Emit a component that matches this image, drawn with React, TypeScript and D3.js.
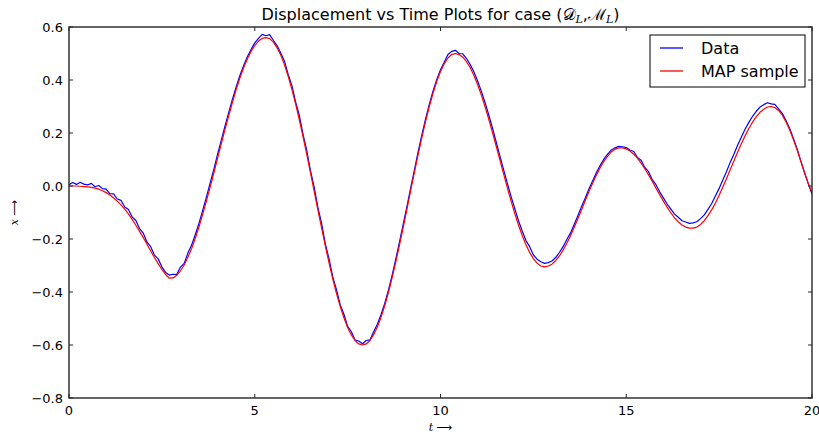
import React from "react";
import * as d3 from "d3";

const T_START = 0;
const T_STEP = 0.1;

const mapSample: number[] = [
  0, 0, 0, -0.001, -0.002, -0.003, -0.005, -0.008, -0.012, -0.018,
  -0.025, -0.034, -0.045, -0.057, -0.071, -0.087, -0.105, -0.126, -0.148, -0.171,
  -0.195, -0.22, -0.245, -0.27, -0.293, -0.315, -0.334, -0.348, -0.347, -0.337,
  -0.32, -0.298, -0.269, -0.236, -0.197, -0.154, -0.106, -0.056, -0.004, 0.05,
  0.105, 0.16, 0.214, 0.266, 0.316, 0.364, 0.407, 0.446, 0.479, 0.508,
  0.53, 0.547, 0.557, 0.56, 0.556, 0.543, 0.522, 0.494, 0.457, 0.414,
  0.365, 0.31, 0.25, 0.186, 0.119, 0.05, -0.02, -0.09, -0.159, -0.226,
  -0.29, -0.35, -0.405, -0.454, -0.497, -0.534, -0.562, -0.583, -0.596, -0.6,
  -0.596, -0.583, -0.561, -0.532, -0.495, -0.451, -0.401, -0.345, -0.284, -0.22,
  -0.153, -0.085, -0.015, 0.053, 0.12, 0.184, 0.245, 0.301, 0.351, 0.395,
  0.432, 0.461, 0.483, 0.496, 0.5, 0.496, 0.486, 0.469, 0.446, 0.417,
  0.382, 0.343, 0.299, 0.252, 0.202, 0.15, 0.098, 0.045, -0.007, -0.057,
  -0.104, -0.148, -0.187, -0.222, -0.251, -0.274, -0.291, -0.302, -0.305, -0.302,
  -0.295, -0.282, -0.264, -0.242, -0.216, -0.188, -0.156, -0.123, -0.089, -0.054,
  -0.02, 0.012, 0.042, 0.07, 0.094, 0.113, 0.129, 0.139, 0.144, 0.144,
  0.14, 0.132, 0.12, 0.105, 0.086, 0.065, 0.042, 0.018, -0.008, -0.033,
  -0.057, -0.08, -0.101, -0.12, -0.135, -0.147, -0.155, -0.159, -0.159, -0.155,
  -0.145, -0.131, -0.112, -0.09, -0.064, -0.035, -0.004, 0.028, 0.062, 0.095,
  0.128, 0.16, 0.19, 0.217, 0.241, 0.262, 0.278, 0.29, 0.298, 0.3,
  0.296, 0.285, 0.267, 0.242, 0.211, 0.175, 0.136, 0.093, 0.05, 0.01,
  -0.025,
];

const dataSeries: number[] = [
  0.005, 0.013, 0.006, 0.014, 0.007, 0.004, 0.01, -0.003, 0.002, -0.01,
  -0.012, -0.029, -0.03, -0.049, -0.054, -0.079, -0.089, -0.117, -0.13, -0.161,
  -0.178, -0.212, -0.229, -0.261, -0.275, -0.305, -0.326, -0.336, -0.333, -0.334,
  -0.306, -0.292, -0.253, -0.223, -0.183, -0.14, -0.091, -0.041, 0.012, 0.064,
  0.12, 0.173, 0.227, 0.278, 0.328, 0.374, 0.417, 0.454, 0.488, 0.515,
  0.54, 0.557, 0.572, 0.567, 0.571, 0.55, 0.53, 0.502, 0.471, 0.421,
  0.379, 0.317, 0.266, 0.195, 0.134, 0.058, -0.004, -0.081, -0.142, -0.218,
  -0.275, -0.343, -0.391, -0.448, -0.484, -0.53, -0.55, -0.581, -0.585, -0.595,
  -0.583, -0.581, -0.55, -0.522, -0.485, -0.442, -0.392, -0.335, -0.273, -0.209,
  -0.141, -0.075, -0.005, 0.062, 0.131, 0.194, 0.254, 0.309, 0.359, 0.402,
  0.439, 0.467, 0.496, 0.508, 0.512, 0.5, 0.499, 0.481, 0.458, 0.43,
  0.396, 0.357, 0.314, 0.268, 0.218, 0.165, 0.113, 0.061, 0.01, -0.04,
  -0.086, -0.131, -0.17, -0.206, -0.229, -0.26, -0.276, -0.286, -0.292, -0.289,
  -0.283, -0.27, -0.251, -0.229, -0.202, -0.177, -0.144, -0.111, -0.076, -0.044,
  -0.009, 0.021, 0.052, 0.078, 0.102, 0.12, 0.136, 0.144, 0.15, 0.148,
  0.145, 0.136, 0.13, 0.108, 0.097, 0.07, 0.054, 0.024, 0.005, -0.022,
  -0.045, -0.068, -0.087, -0.106, -0.118, -0.131, -0.136, -0.141, -0.139, -0.135,
  -0.123, -0.109, -0.088, -0.066, -0.038, -0.009, 0.023, 0.055, 0.09, 0.121,
  0.155, 0.185, 0.215, 0.24, 0.263, 0.282, 0.298, 0.307, 0.314, 0.31,
  0.308, 0.291, 0.274, 0.247, 0.217, 0.179, 0.14, 0.094, 0.05, 0.008,
  -0.03,
];

const xTicks = [0, 5, 10, 15, 20];
const yTicks = [-0.8, -0.6, -0.4, -0.2, 0.0, 0.2, 0.4, 0.6];

const seriesNames = ["Data", "MAP sample"];
const seriesColors = ["#0000ff", "#ff0000"];

const W = 819;
const H = 435;
const LEFT = 69;
const RIGHT = 812;
const TOP = 27;
const BOTTOM = 398;

const fmtY = (v: number) => {
  const s = Math.abs(v).toFixed(1);
  return v < -1e-9 ? "\u2212" + s : s;
};

export default function App() {
  const x = d3.scaleLinear().domain([0, 20]).range([LEFT, RIGHT]);
  const y = d3.scaleLinear().domain([-0.8, 0.6]).range([BOTTOM, TOP]);
  const line = d3
    .line<number>()
    .x((_, i) => x(T_START + i * T_STEP))
    .y((d) => y(d));

  const axisColor = "#262626";
  const tickLen = 4;
  const font = "'DejaVu Sans', sans-serif";
  const serif = "'DejaVu Serif', serif";

  return (
    <div style={{ position: "absolute", left: 0, top: 0 }}>
      <svg width={W} height={H} xmlns="http://www.w3.org/2000/svg" style={{ display: "block", background: "#fff" }}>
        <defs>
          <clipPath id="plotClip">
            <rect x={LEFT} y={TOP} width={RIGHT - LEFT} height={BOTTOM - TOP} />
          </clipPath>
        </defs>
        <rect x={0} y={0} width={W} height={H} fill="#fff" />
        <g clipPath="url(#plotClip)">
          <path d={line(dataSeries) || ""} fill="none" stroke={seriesColors[0]} strokeWidth={1.2} strokeLinejoin="round" />
          <path d={line(mapSample) || ""} fill="none" stroke={seriesColors[1]} strokeWidth={1.2} strokeLinejoin="round" />
        </g>
        {xTicks.map((t) => (
          <g key={"xt" + t}>
            <line x1={x(t)} x2={x(t)} y1={BOTTOM} y2={BOTTOM - tickLen} stroke={axisColor} strokeWidth={1} />
            <line x1={x(t)} x2={x(t)} y1={TOP} y2={TOP + tickLen} stroke={axisColor} strokeWidth={1} />
            <text x={x(t)} y={BOTTOM + 17} textAnchor="middle" fontFamily={font} fontSize={13} fill="#000">
              {t}
            </text>
          </g>
        ))}
        {yTicks.map((v) => (
          <g key={"yt" + v}>
            <line x1={LEFT} x2={LEFT + tickLen} y1={y(v)} y2={y(v)} stroke={axisColor} strokeWidth={1} />
            <line x1={RIGHT} x2={RIGHT - tickLen} y1={y(v)} y2={y(v)} stroke={axisColor} strokeWidth={1} />
            <text x={LEFT - 6} y={y(v)} dy="0.36em" textAnchor="end" fontFamily={font} fontSize={13} fill="#000">
              {fmtY(v)}
            </text>
          </g>
        ))}
        <rect x={LEFT} y={TOP} width={RIGHT - LEFT} height={BOTTOM - TOP} fill="none" stroke={axisColor} strokeWidth={1.4} />
        <text x={(LEFT + RIGHT) / 2} y={20} textAnchor="middle" fontFamily={font} fontSize={16} fill="#000">
          Displacement vs Time Plots for case (
          <tspan fontFamily={serif}>𝒟</tspan>
          <tspan fontFamily={serif} fontStyle="italic" fontSize={11} dy={3}>L</tspan>
          <tspan dy={-3}>,</tspan>
          <tspan fontFamily={serif}>ℳ</tspan>
          <tspan fontFamily={serif} fontStyle="italic" fontSize={11} dy={3}>L</tspan>
          <tspan dy={-3}>)</tspan>
        </text>
        <text x={(LEFT + RIGHT) / 2} y={431} textAnchor="middle" fontFamily={serif} fontSize={11} fill="#000">
          <tspan fontStyle="italic">t</tspan>
          <tspan fontFamily={font}> ⟶</tspan>
        </text>
        <text
          transform={`translate(18, ${(TOP + BOTTOM) / 2}) rotate(-90)`}
          textAnchor="middle"
          fontFamily={serif}
          fontSize={11}
          fill="#000"
        >
          <tspan fontStyle="italic">x</tspan>
          <tspan fontFamily={font}> ⟶</tspan>
        </text>
        <g>
          <rect x={650} y={35} width={155} height={52} fill="#fff" stroke="#000" strokeWidth={1} />
          {seriesNames.map((name, i) => (
            <g key={name}>
              <line x1={660} x2={683} y1={48 + i * 23} y2={48 + i * 23} stroke={seriesColors[i]} strokeWidth={1.3} />
              <text x={701} y={48 + i * 23} dy="0.36em" fontFamily={font} fontSize={16} fill="#000">
                {name}
              </text>
            </g>
          ))}
        </g>
      </svg>
    </div>
  );
}
